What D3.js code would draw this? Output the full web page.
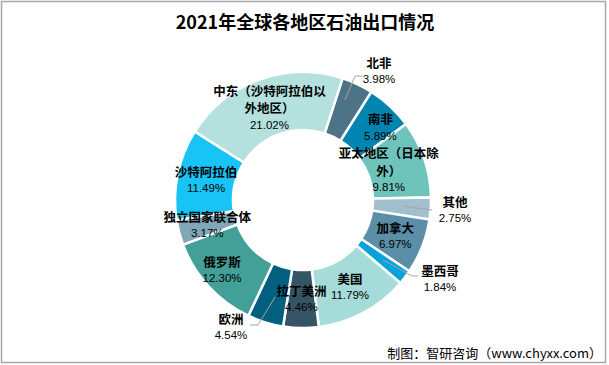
<!DOCTYPE html>
<html><head><meta charset="utf-8">
<script src="https://cdn.jsdelivr.net/npm/d3@7"></script>
<style>html,body{margin:0;padding:0;background:#fff;}svg{display:block;}</style>
</head><body>
<svg id="chart" width="609" height="365"></svg>
<script>
const categories = ["北非","南非","亚太地区（日本除外）","其他","加拿大","墨西哥","美国","拉丁美洲","欧洲","俄罗斯","独立国家联合体","沙特阿拉伯","中东（沙特阿拉伯以外地区）"];
const shares = [3.98,5.89,9.81,2.75,6.97,1.84,11.79,4.46,4.54,12.30,3.17,11.49,21.02];
const colors = ["#4d7388","#0085b1","#6ec3ba","#a1bfcd","#5b8ea7","#06a3da","#a5dcd9","#355564","#015f7f","#42a098","#7fa7b7","#18c4f6","#b4e1de"];
const titleText = "2021年全球各地区石油出口情况";
const sourceText = "制图：智研咨询（www.chyxx.com）";

// layout (not data)
const lineBreaks = {"亚太地区（日本除外）":8, "中东（沙特阿拉伯以外地区）":9};
const outside = { // label anchor for slices labelled outside, plus leader elbow
  "北非": {lx:379, ly:71, pts:[[345,100],[355,76],[362,76]]},
  "其他": {lx:455, ly:210, pts:[[403,206],[432,210]]},
  "墨西哥": {lx:440, ly:279, pts:[[383,260],[412,276],[418,276]]},
  "欧洲": {lx:231, ly:327, pts:[[275,297],[258,325],[250,325]]}
};
const nudge = {"俄罗斯":[-8,3],"亚太地区（日本除外）":[-8,2],"南非":[10,0],"中东（沙特阿拉伯以外地区）":[0,1]};

const svg = d3.select("#chart");
svg.append("rect").attr("x",1.5).attr("y",1.5).attr("width",604).attr("height",361)
  .attr("fill","#fff").attr("stroke","#a6a6a6").attr("stroke-width",1.5);

svg.append("text").attr("x",305).attr("y",29).attr("text-anchor","middle")
  .attr("font-family","'Noto Sans CJK SC'").attr("font-weight","bold").attr("font-size",18)
  .attr("fill","#000").text(titleText);

svg.append("text").attr("x",602).attr("y",358).attr("text-anchor","end")
  .attr("font-family","'Noto Sans CJK SC'").attr("font-size",13)
  .attr("fill","#000").text(sourceText);

const cx = 303, cy = 200, rOuter = 128, rInner = 70;
const data = categories.map((c,i)=>({name:c, value:shares[i], color:colors[i]}));
const offset = 18*Math.PI/180;
const pie = d3.pie().value(d=>d.value).sort(null).startAngle(offset).endAngle(offset+2*Math.PI);
const arc = d3.arc().innerRadius(rInner).outerRadius(rOuter);
const mid = d3.arc().innerRadius(99).outerRadius(99);
const g = svg.append("g").attr("transform",`translate(${cx},${cy})`);
const arcs = pie(data);
g.selectAll("path").data(arcs).join("path")
  .attr("d",arc).attr("fill",d=>d.data.color).attr("stroke","#fff").attr("stroke-width",2.5);

// leader lines
const lineGen = d3.line();
Object.values(outside).forEach(o=>{
  svg.append("path").attr("d",lineGen(o.pts)).attr("fill","none")
    .attr("stroke","#a6a6a6").attr("stroke-width",1);
});

const lab = svg.append("g").attr("fill","#000");
arcs.forEach(a=>{
  const name = a.data.name;
  let x, y;
  if (outside[name]) { x = outside[name].lx; y = outside[name].ly; }
  else {
    const c = mid.centroid(a); x = cx + c[0]; y = cy + c[1];
    if (nudge[name]) { x += nudge[name][0]; y += nudge[name][1]; }
  }
  const lines = lineBreaks[name] ? [name.slice(0,lineBreaks[name]), name.slice(lineBreaks[name])] : [name];
  // baselines: name lines 17.5 apart, percent 15.5 below last name line
  const offsets = lines.map((_,i)=>i*17.5);
  offsets.push(offsets[offsets.length-1] + 15.5);
  const total = offsets[offsets.length-1];
  const base0 = y - total/2 + 4.5;
  lines.forEach((l,i)=>{
    lab.append("text").attr("x",x).attr("y",base0+offsets[i]).attr("text-anchor","middle")
      .attr("font-family","'Noto Sans CJK SC'").attr("font-size",12.5).attr("font-weight","bold").text(l);
  });
  lab.append("text").attr("x",x).attr("y",base0+total).attr("text-anchor","middle")
    .attr("font-family","'Liberation Sans', Arial, sans-serif").attr("font-size",11.5)
    .text(d3.format(".2f")(a.data.value)+"%");
});
</script>
</body></html>
